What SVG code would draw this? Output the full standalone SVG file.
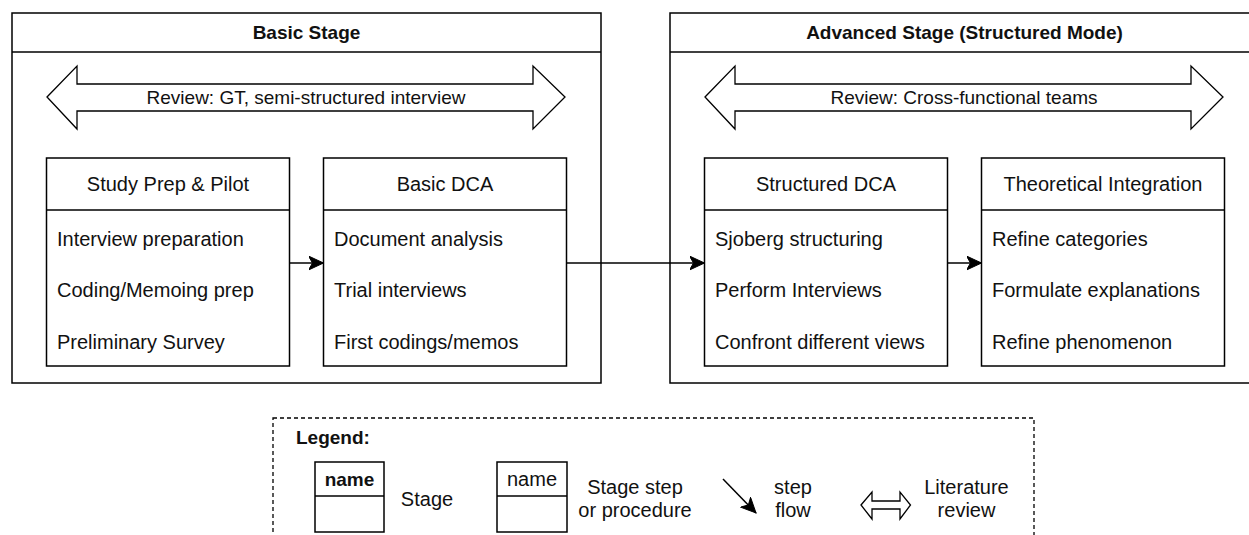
<svg xmlns="http://www.w3.org/2000/svg" width="1249" height="535" viewBox="0 0 1249 535">
  <defs>
    <style>
      .box { fill: #ffffff; stroke: #000000; stroke-width: 1.5; }
      .line { fill: none; stroke: #000000; stroke-width: 1.5; }
      .dblarrow { fill: #ffffff; stroke: #000000; stroke-width: 1.3; stroke-linejoin: miter; }
      .title { font-family: "Liberation Sans", Arial, sans-serif; font-size: 19px; font-weight: bold; fill: #111; text-anchor: middle; }
      .review { font-family: "Liberation Sans", Arial, sans-serif; font-size: 19px; fill: #111; text-anchor: middle; }
      .head { font-family: "Liberation Sans", Arial, sans-serif; font-size: 20px; fill: #111; text-anchor: middle; }
      .item { font-family: "Liberation Sans", Arial, sans-serif; font-size: 20px; fill: #111; }
      .legtxt { font-family: "Liberation Sans", Arial, sans-serif; font-size: 20px; fill: #111; text-anchor: middle; }
      .legbold { font-family: "Liberation Sans", Arial, sans-serif; font-size: 19px; font-weight: bold; fill: #111; }
      .conn { fill: none; stroke: #000000; stroke-width: 1.5; }
    </style>
    <marker id="arrowhead" markerUnits="userSpaceOnUse" markerWidth="16" markerHeight="16" refX="15" refY="7" orient="auto">
      <path d="M0,0 L15,7 L0,14 L4,7 Z" fill="#000000" stroke="#000000" stroke-width="1"/>
    </marker>
  </defs>

  <!-- Basic Stage -->
  <g id="basic-stage">
    <rect class="box" x="12" y="13" width="589" height="370"/>
    <line class="line" x1="12" y1="52" x2="601" y2="52"/>
    <text class="title" x="306.5" y="39">Basic Stage</text>
    <path class="dblarrow" d="M47,97 L77,66 L77,84 L533,84 L533,66 L565,97 L533,129 L533,111 L77,111 L77,129 Z"/>
    <text class="review" x="306" y="104">Review: GT, semi-structured interview</text>
  </g>

  <!-- Advanced Stage -->
  <g id="advanced-stage">
    <rect class="box" x="670" y="13" width="589" height="370"/>
    <line class="line" x1="670" y1="52" x2="1259" y2="52"/>
    <text class="title" x="964.5" y="39">Advanced Stage (Structured Mode)</text>
    <path class="dblarrow" d="M705,97 L735,66 L735,84 L1191,84 L1191,66 L1223,97 L1191,129 L1191,111 L735,111 L735,129 Z"/>
    <text class="review" x="964" y="104">Review: Cross-functional teams</text>
  </g>

  <!-- Steps -->
  <g id="study-prep">
    <rect class="box" x="46.5" y="158" width="243" height="208"/>
    <line class="line" x1="46.5" y1="210" x2="289.5" y2="210"/>
    <text class="head" x="168" y="191">Study Prep &amp; Pilot</text>
    <text class="item" x="57" y="246">Interview preparation</text>
    <text class="item" x="57" y="297">Coding/Memoing prep</text>
    <text class="item" x="57" y="349">Preliminary Survey</text>
  </g>

  <g id="basic-dca">
    <rect class="box" x="323.5" y="158" width="243" height="208"/>
    <line class="line" x1="323.5" y1="210" x2="566.5" y2="210"/>
    <text class="head" x="445" y="191">Basic DCA</text>
    <text class="item" x="334" y="246">Document analysis</text>
    <text class="item" x="334" y="297">Trial interviews</text>
    <text class="item" x="334" y="349">First codings/memos</text>
  </g>

  <g id="structured-dca">
    <rect class="box" x="704.5" y="158" width="243" height="208"/>
    <line class="line" x1="704.5" y1="210" x2="947.5" y2="210"/>
    <text class="head" x="826" y="191">Structured DCA</text>
    <text class="item" x="715" y="246">Sjoberg structuring</text>
    <text class="item" x="715" y="297">Perform Interviews</text>
    <text class="item" x="715" y="349">Confront different views</text>
  </g>

  <g id="theoretical-integration">
    <rect class="box" x="981.5" y="158" width="243" height="208"/>
    <line class="line" x1="981.5" y1="210" x2="1224.5" y2="210"/>
    <text class="head" x="1103" y="191">Theoretical Integration</text>
    <text class="item" x="992" y="246">Refine categories</text>
    <text class="item" x="992" y="297">Formulate explanations</text>
    <text class="item" x="992" y="349">Refine phenomenon</text>
  </g>

  <!-- Step flow connectors -->
  <g id="connectors">
    <line class="conn" x1="289.5" y1="263" x2="323.5" y2="263" marker-end="url(#arrowhead)"/>
    <line class="conn" x1="566.5" y1="263" x2="704.5" y2="263" marker-end="url(#arrowhead)"/>
    <line class="conn" x1="947.5" y1="263" x2="981.5" y2="263" marker-end="url(#arrowhead)"/>
  </g>

  <!-- Legend -->
  <g id="legend">
    <rect x="273" y="418" width="761" height="150" fill="#ffffff" stroke="#000000" stroke-width="1.3" stroke-dasharray="4 3"/>
    <text class="legbold" x="296" y="444">Legend:</text>

    <rect class="box" x="315" y="462" width="69" height="70"/>
    <line class="line" x1="315" y1="496" x2="384" y2="496"/>
    <text class="legbold" x="349.5" y="486" text-anchor="middle">name</text>
    <text class="legtxt" x="427" y="506">Stage</text>

    <rect class="box" x="497" y="462" width="70" height="70"/>
    <line class="line" x1="497" y1="496" x2="567" y2="496"/>
    <text class="legtxt" x="532" y="486">name</text>
    <text class="legtxt" x="635" y="494">Stage step</text>
    <text class="legtxt" x="635" y="517">or procedure</text>

    <line class="conn" x1="723" y1="479" x2="756" y2="513" marker-end="url(#arrowhead)"/>
    <text class="legtxt" x="793" y="494">step</text>
    <text class="legtxt" x="793" y="517">flow</text>

    <path class="dblarrow" d="M861,505 L872,492 L872,501 L900,501 L900,492 L910.5,505 L900,519 L900,509 L872,509 L872,519 Z"/>
    <text class="legtxt" x="966.5" y="494">Literature</text>
    <text class="legtxt" x="966.5" y="517">review</text>
  </g>
</svg>
